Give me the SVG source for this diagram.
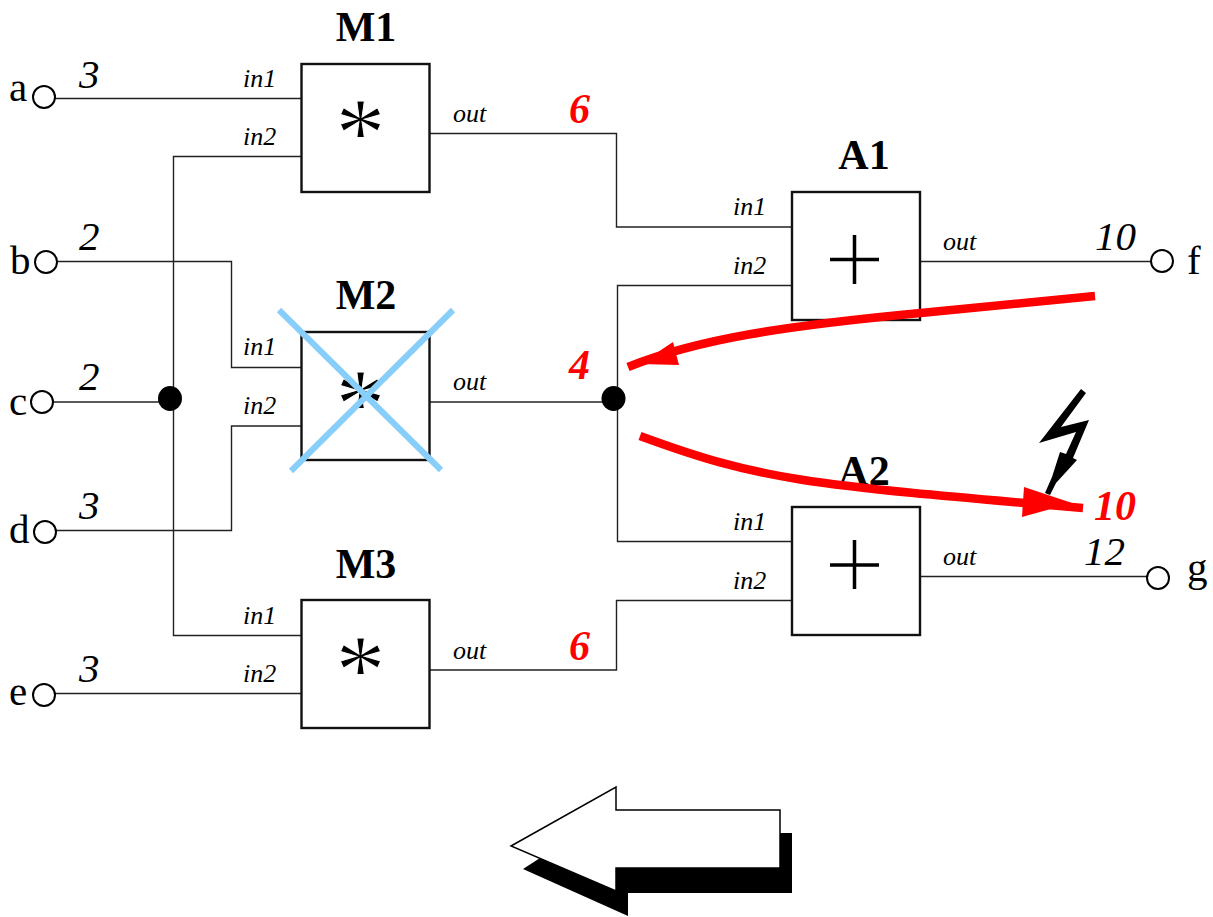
<svg xmlns="http://www.w3.org/2000/svg" width="1213" height="917" viewBox="0 0 1213 917">
<style>
text{font-family:"Liberation Serif","Times New Roman",serif;fill:#000}
.w{fill:none;stroke:#222;stroke-width:1.4}
.box{fill:#fff;stroke:#111;stroke-width:2.4}
.port{fill:#fff;stroke:#000;stroke-width:2}
.dot{fill:#000}
.t{font-size:42px;font-weight:bold;text-anchor:middle}
.p{font-size:26px;font-style:italic}
.v{font-size:41px;font-style:italic}
.r{font-size:42px;font-style:italic;font-weight:bold;fill:#f00}
.n{font-size:41px}
.op{font-size:100px;text-anchor:middle;stroke:#fff;stroke-width:1}
.red{fill:none;stroke:#f00;stroke-width:8.500}
.redh{fill:#f00}
.x{stroke:#87cefa;stroke-width:6}
</style>
<g id="connectors">
<path class="w" d="M55 98.500H301"/>
<path class="w" d="M301 156.500H173.500V635.500H301"/>
<path class="w" d="M56 261.500H231.500V367.500H302"/>
<path class="w" d="M53 402H170"/>
<path class="w" d="M56 530.500H231.500V426H302"/>
<path class="w" d="M55 693.500H302"/>
<path class="w" d="M430 133.500H616.500V227H792"/>
<path class="w" d="M792 285.500H617.500V541.500H792"/>
<path class="w" d="M430 402H605"/>
<path class="w" d="M430 670H616.500V600.500H792"/>
<path class="w" d="M920 261.500H1152"/>
<path class="w" d="M920 576.500H1147"/>
</g>
<g id="port-a"><circle class="port" cx="44" cy="97" r="11"/><text class="n" x="9" y="101">a</text><text class="v" x="79" y="88">3</text></g>
<g id="port-b"><circle class="port" cx="46" cy="262" r="11"/><text class="n" x="10" y="274">b</text><text class="v" x="79" y="250">2</text></g>
<g id="port-c"><circle class="port" cx="42" cy="402" r="11"/><text class="n" x="9" y="415">c</text><text class="v" x="79" y="390">2</text></g>
<g id="port-d"><circle class="port" cx="45" cy="532" r="11"/><text class="n" x="9" y="543">d</text><text class="v" x="79" y="519">3</text></g>
<g id="port-e"><circle class="port" cx="44" cy="695" r="11"/><text class="n" x="9" y="705">e</text><text class="v" x="79" y="682">3</text></g>
<g id="port-f"><circle class="port" cx="1162" cy="261" r="11"/><text class="n" x="1187" y="274">f</text><text class="v" x="1095" y="250">10</text></g>
<g id="port-g"><circle class="port" cx="1158" cy="578" r="11"/><text class="n" x="1187" y="581">g</text><text class="v" x="1084" y="565">12</text></g>
<g id="junction-left"><ellipse class="dot" cx="170" cy="398.500" rx="12" ry="12.500"/></g>
<g id="junction-right"><ellipse class="dot" cx="613.500" cy="398.500" rx="12" ry="12.500"/></g>
<g id="M1"><rect class="box" x="301.500" y="64" width="128" height="128"/><text class="t" x="366" y="41">M1</text><text class="op" x="360.500" y="166">*</text><text class="p" x="243" y="87">in1</text><text class="p" x="243" y="145">in2</text><text class="p" x="453" y="122">out</text><text class="r" x="569" y="123">6</text></g>
<g id="M2"><rect class="box" x="301.500" y="332" width="128" height="128"/><text class="t" x="366" y="309">M2</text><text class="op" x="360.500" y="437">*</text><text class="p" x="243" y="355">in1</text><text class="p" x="243" y="414">in2</text><text class="p" x="453" y="390">out</text><text class="r" x="569" y="379">4</text></g>
<g id="M3"><rect class="box" x="301.500" y="600" width="128" height="128"/><text class="t" x="366" y="578">M3</text><text class="op" x="360.500" y="703">*</text><text class="p" x="243" y="624">in1</text><text class="p" x="243" y="682">in2</text><text class="p" x="453" y="659">out</text><text class="r" x="569" y="660">6</text></g>
<g id="A1"><rect class="box" x="792" y="192" width="128" height="128"/><text class="t" x="864" y="169">A1</text><path d="M830 259.500H879M854.500 235V284" fill="none" stroke="#000" stroke-width="3.500"/><text class="p" x="733" y="215">in1</text><text class="p" x="733" y="274">in2</text><text class="p" x="943" y="250">out</text></g>
<g id="A2"><rect class="box" x="792" y="507" width="128" height="128"/><text class="t" x="864" y="485">A2</text><path d="M830 565H879M854.500 540V589" fill="none" stroke="#000" stroke-width="3.500"/><text class="p" x="733" y="530">in1</text><text class="p" x="733" y="589">in2</text><text class="p" x="943" y="565">out</text></g>
<g id="cross"><path class="x" d="M279 310L441 470M453 310L291 471"/></g>
<g id="flash"><path fill="#000" d="M1081 389L1086 393L1061 427L1089 420L1073 458L1077 460L1056 483L1050 495L1045 493L1052 477L1060 452L1066 454L1076 432L1039 443Z"/></g>
<g id="red-arrows">
<path class="red" d="M1095 296L900 315C790 326 700 338 628 367"/>
<path class="redh" d="M640 364L673 342L679 365Z"/>
<path class="red" d="M640 436C760 480 800 484 1083 508"/>
<path class="redh" d="M1024 487L1072 503L1022 517Z"/>
<text class="r" x="1094" y="520">10</text>
</g>
<g id="big-arrow">
<path fill="#000" d="M523 869L628 916V893H792V833H770V860H600L540 858Z"/>
<path fill="#fff" stroke="#000" stroke-width="1.500" d="M616 787V810H780V868H616V891L511 846Z"/>
</g>
</svg>
